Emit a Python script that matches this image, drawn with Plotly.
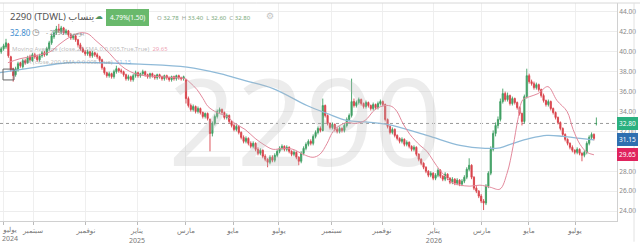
import plotly.graph_objects as go

# ---------------- data ----------------
OPEN = [40.0, 40.3, 40.5, 40.8, 39.5, 38.3, 37.7, 38.2, 38.9, 38.5,
        39.1, 38.9, 39.5, 39.1, 39.7, 39.5, 39.2, 39.6, 39.9, 39.7,
        40.3, 40.9, 41.5, 41.9, 42.3, 42.0, 42.4, 41.9, 42.1, 41.7,
        41.4, 41.6, 41.2, 40.7, 40.3, 40.0, 39.8, 40.0, 39.6, 39.9,
        39.7, 39.5, 39.2, 38.4, 37.9, 37.6, 37.8, 37.5, 38.0, 38.3,
        38.1, 38.0, 37.7, 37.3, 37.5, 37.2, 37.6, 37.9, 37.6, 37.8,
        38.0, 37.7, 37.5, 37.8, 37.6, 37.4, 37.7, 37.5, 37.3, 37.6,
        37.4, 37.2, 37.5, 37.3, 37.6, 37.4, 37.3, 37.2, 35.3, 34.6,
        34.2, 34.5, 34.0, 34.3, 33.9, 33.5, 33.8, 33.2, 31.8, 32.8,
        33.5, 34.0, 34.2, 33.9, 33.4, 33.6, 33.0, 32.6, 32.2, 32.5,
        31.9, 31.4, 31.0, 31.3, 30.8, 30.5, 30.8, 30.2, 29.8, 30.1,
        29.5, 29.2, 28.9, 29.4, 29.1, 29.6, 30.0, 30.3, 30.5, 30.2,
        30.4, 30.0, 29.7, 29.9, 29.4, 29.0, 29.8, 30.3, 30.7, 31.0,
        30.8, 31.5, 31.9, 32.3, 32.1, 34.6, 33.6, 32.8, 32.4, 32.7,
        32.2, 32.0, 32.3, 32.1, 32.6, 33.2, 33.6, 35.0, 34.6, 34.9,
        35.2, 34.8, 34.5, 34.9, 34.6, 34.3, 34.7, 34.4, 34.8, 35.0,
        34.7, 33.2, 32.5, 31.9, 32.2, 31.6, 31.3, 31.0, 31.2, 30.7,
        30.9, 30.5, 30.2, 30.4, 29.7, 29.2, 28.8, 28.4, 28.0, 27.6,
        27.8, 27.3, 27.6, 28.1, 27.5, 27.2, 27.7, 27.3, 26.9, 27.2,
        26.8, 27.1, 26.7, 27.0, 27.4, 28.2, 28.6, 27.4, 26.3, 26.0,
        25.5, 25.0, 24.8, 26.5, 27.8, 30.2, 31.8, 32.6, 33.2, 35.0,
        35.8, 35.2, 35.6, 34.8, 35.3, 34.9, 34.4, 33.8, 33.0, 35.5,
        37.6, 37.0, 36.8, 36.4, 36.7, 36.2, 35.6, 35.1, 34.7, 35.0,
        34.3, 33.9, 33.4, 32.9, 32.3, 31.7, 31.2, 30.8, 30.4, 30.1,
        29.9, 30.2, 29.8, 29.6, 29.9, 30.8, 31.4, 31.7, 32.78]

HIGH = [40.5, 40.8, 41.3, 40.9, 39.6, 38.4, 38.5, 39.0, 39.0, 39.3,
        39.3, 39.6, 39.7, 39.9, 39.9, 39.7, 39.8, 40.1, 40.1, 40.5,
        41.1, 41.8, 42.2, 42.6, 42.8, 42.6, 42.5, 42.3, 42.2, 41.9,
        41.8, 41.7, 41.3, 40.9, 40.5, 40.2, 40.2, 40.1, 40.1, 40.0,
        39.9, 39.6, 39.3, 38.5, 38.0, 38.0, 37.9, 38.2, 38.6, 38.4,
        38.3, 38.1, 37.8, 37.7, 37.6, 37.8, 38.1, 38.0, 37.9, 38.2,
        38.1, 37.8, 37.9, 37.9, 37.7, 37.8, 37.8, 37.6, 37.7, 37.7,
        37.5, 37.6, 37.6, 37.7, 37.7, 37.5, 37.6, 37.3, 35.5, 34.8,
        34.7, 34.6, 34.5, 34.4, 34.0, 33.9, 33.9, 33.3, 33.0, 33.7,
        34.2, 34.4, 34.3, 34.0, 33.8, 33.7, 33.1, 32.8, 32.7, 32.6,
        32.0, 31.6, 31.5, 31.4, 31.0, 31.0, 30.9, 30.4, 30.3, 30.2,
        29.7, 29.3, 29.6, 29.6, 29.8, 30.2, 30.5, 30.7, 30.6, 30.6,
        30.5, 30.1, 30.1, 30.0, 29.5, 30.0, 30.5, 30.9, 31.2, 31.2,
        31.7, 32.1, 32.5, 32.5, 35.3, 34.7, 33.7, 32.9, 32.9, 32.8,
        32.4, 32.5, 32.4, 32.8, 33.4, 33.8, 37.3, 35.3, 35.1, 35.4,
        35.3, 34.9, 35.1, 35.0, 34.7, 34.9, 34.8, 35.0, 35.2, 35.1,
        34.8, 33.3, 32.6, 32.4, 32.3, 31.7, 31.4, 31.4, 31.3, 31.1,
        31.0, 30.6, 30.6, 30.5, 29.8, 29.3, 28.9, 28.5, 28.1, 28.0,
        27.9, 27.8, 28.3, 28.2, 27.6, 27.9, 27.8, 27.4, 27.4, 27.3,
        27.3, 27.2, 27.2, 27.6, 28.4, 29.3, 28.7, 27.5, 26.5, 26.1,
        25.7, 25.2, 26.7, 28.0, 30.5, 32.1, 32.9, 33.5, 35.3, 36.3,
        36.0, 35.9, 35.7, 35.5, 35.4, 35.0, 34.5, 33.9, 35.7, 38.3,
        37.8, 37.2, 37.0, 36.9, 36.8, 36.3, 35.8, 35.2, 35.2, 35.1,
        34.4, 34.0, 33.5, 33.0, 32.4, 31.8, 31.3, 30.9, 30.6, 30.2,
        30.4, 30.3, 29.9, 30.1, 31.0, 31.6, 31.9, 31.8, 33.40]

LOW = [39.8, 40.1, 40.3, 39.4, 38.0, 37.0, 37.5, 38.0, 38.4, 38.3,
       38.7, 38.8, 39.0, 39.0, 39.3, 39.0, 39.0, 39.4, 39.5, 39.6,
       40.1, 40.7, 41.3, 41.7, 41.9, 41.8, 41.7, 41.7, 41.5, 41.2,
       41.2, 41.0, 40.5, 40.1, 39.9, 39.6, 39.6, 39.4, 39.4, 39.5,
       39.3, 39.0, 38.2, 37.7, 37.4, 37.4, 37.3, 37.3, 37.8, 37.9,
       37.8, 37.5, 37.1, 37.1, 37.0, 37.0, 37.4, 37.4, 37.4, 37.6,
       37.5, 37.3, 37.3, 37.4, 37.2, 37.2, 37.3, 37.1, 37.1, 37.2,
       37.0, 37.0, 37.1, 37.1, 37.2, 37.1, 37.1, 34.8, 34.4, 34.0,
       34.0, 33.8, 33.8, 33.7, 33.3, 33.3, 33.1, 30.0, 31.5, 32.6,
       33.3, 33.8, 33.7, 33.2, 33.2, 32.8, 32.4, 32.0, 32.0, 31.7,
       31.2, 30.8, 30.8, 30.6, 30.3, 30.3, 30.0, 29.6, 29.6, 29.3,
       29.0, 28.4, 28.7, 28.9, 28.9, 29.4, 29.8, 30.1, 30.0, 30.0,
       29.8, 29.5, 29.5, 29.2, 28.6, 28.8, 29.6, 30.1, 30.5, 30.6,
       30.6, 31.3, 31.7, 31.9, 32.0, 33.4, 32.6, 32.2, 32.2, 32.0,
       31.8, 31.8, 31.9, 31.9, 32.4, 33.0, 33.4, 34.4, 34.4, 34.7,
       34.6, 34.3, 34.3, 34.4, 34.1, 34.1, 34.2, 34.2, 34.6, 34.5,
       33.0, 32.3, 31.7, 31.7, 31.4, 31.1, 30.8, 30.8, 30.5, 30.5,
       30.3, 30.0, 30.0, 29.5, 29.0, 28.6, 28.2, 27.8, 27.4, 27.4,
       27.1, 27.1, 27.4, 27.3, 27.0, 27.0, 27.1, 26.7, 26.7, 26.6,
       26.6, 26.5, 26.5, 26.8, 27.2, 28.0, 27.2, 26.1, 25.8, 25.3,
       24.8, 24.1, 24.6, 26.3, 27.6, 30.0, 31.5, 32.3, 33.0, 34.8,
       35.0, 35.0, 34.6, 34.6, 34.7, 34.2, 33.6, 32.6, 32.8, 35.3,
       36.8, 36.6, 36.2, 36.2, 36.0, 35.4, 34.9, 34.5, 34.5, 34.1,
       33.7, 33.2, 32.7, 32.1, 31.5, 31.0, 30.6, 30.2, 29.9, 29.7,
       29.7, 29.6, 29.0, 29.4, 29.7, 30.6, 31.2, 31.1, 32.60]

CLOSE = [40.3, 40.6, 40.9, 39.6, 38.2, 37.6, 38.3, 38.8, 38.6, 39.1,
         38.9, 39.4, 39.2, 39.7, 39.5, 39.2, 39.6, 39.9, 39.7, 40.3,
         40.9, 41.6, 41.9, 42.3, 42.1, 42.4, 41.9, 42.1, 41.7, 41.4,
         41.6, 41.2, 40.7, 40.3, 40.0, 39.8, 40.0, 39.6, 39.9, 39.7,
         39.5, 39.2, 38.4, 37.9, 37.6, 37.8, 37.5, 38.0, 38.3, 38.1,
         38.0, 37.7, 37.3, 37.5, 37.2, 37.6, 37.9, 37.6, 37.8, 38.0,
         37.7, 37.5, 37.8, 37.6, 37.4, 37.7, 37.5, 37.3, 37.6, 37.4,
         37.2, 37.5, 37.3, 37.6, 37.4, 37.3, 37.5, 35.3, 34.6, 34.2,
         34.5, 34.0, 34.3, 33.9, 33.5, 33.8, 33.3, 31.8, 32.8, 33.5,
         34.0, 34.2, 33.9, 33.4, 33.6, 33.0, 32.6, 32.2, 32.5, 31.9,
         31.4, 31.0, 31.3, 30.8, 30.5, 30.8, 30.2, 29.8, 30.1, 29.5,
         29.2, 28.9, 29.4, 29.1, 29.6, 30.0, 30.3, 30.5, 30.2, 30.4,
         30.0, 29.7, 29.9, 29.4, 29.0, 29.8, 30.3, 30.7, 31.0, 30.8,
         31.5, 31.9, 32.3, 32.1, 34.6, 33.6, 32.8, 32.4, 32.7, 32.2,
         32.0, 32.3, 32.1, 32.6, 33.2, 33.6, 35.0, 34.6, 34.9, 35.2,
         34.8, 34.5, 34.9, 34.6, 34.3, 34.7, 34.4, 34.8, 35.0, 34.7,
         33.2, 32.5, 31.9, 32.2, 31.6, 31.3, 31.0, 31.2, 30.7, 30.9,
         30.5, 30.2, 30.4, 29.7, 29.2, 28.8, 28.4, 28.0, 27.6, 27.8,
         27.3, 27.6, 28.1, 27.5, 27.2, 27.7, 27.3, 26.9, 27.2, 26.8,
         27.1, 26.7, 27.0, 27.4, 28.2, 28.6, 27.4, 26.3, 26.0, 25.5,
         25.0, 24.8, 26.5, 27.8, 30.2, 31.8, 32.6, 33.2, 35.0, 35.8,
         35.2, 35.6, 34.8, 35.3, 34.9, 34.4, 33.8, 33.0, 35.5, 37.6,
         37.0, 36.8, 36.4, 36.7, 36.2, 35.6, 35.1, 34.7, 35.0, 34.3,
         33.9, 33.4, 32.9, 32.3, 31.7, 31.2, 30.8, 30.4, 30.1, 29.9,
         30.2, 29.8, 29.6, 29.9, 30.8, 31.4, 31.7, 31.3, 32.80]

# short moving average (red): candle index, value
MA_SHORT_IDX = [2.8, 7.8, 14.1, 20.3, 24.5, 28.7, 32.8, 36.2, 39.1, 42.4, 45.3, 48.7,
                51.6, 55.8, 59.9, 66.2, 72.4, 76.6, 78.7, 81.6, 84.1, 86.2, 89.9, 94.1,
                97.4, 101.6, 105.8, 109.9, 113.3, 117.4, 121.6, 125.8, 129.9, 132.8,
                135.8, 137.8, 139.9, 144.1, 147.4, 151.6, 155.8, 159.9, 162.8, 164.9,
                167.4, 170.3, 174.5, 177.4, 179.9, 182.8, 185.8, 188.3, 191.2, 195.3,
                199.5, 203.7, 207.8, 210.8, 213.3, 215.3, 217.4, 220.3, 223.7, 227.8,
                231.6, 235.8, 238.3, 241.2, 244.1, 247.0]
MA_SHORT_VAL = [38.9, 39.3, 39.6, 40.0, 40.8, 41.5, 41.9, 41.8, 41.2, 40.5, 39.8, 38.9,
                38.3, 37.8, 37.6, 37.5, 37.4, 37.3, 36.9, 36.2, 35.3, 34.5, 33.9, 33.5,
                32.8, 32.2, 31.3, 30.6, 30.2, 30.3, 30.2, 29.7, 29.4, 29.7,
                30.8, 31.8, 32.4, 32.9, 32.8, 33.1, 34.2, 34.6, 34.5, 34.0,
                32.8, 31.7, 30.6, 30.0, 29.1, 28.1, 27.3, 26.8, 26.6, 26.5,
                26.6, 26.4, 26.2, 27.8, 30.5, 33.2, 35.2, 35.5, 35.8, 36.5,
                35.1, 34.0, 32.2, 30.7, 29.9, 29.65]

# long moving average (blue)
MA_LONG_IDX = [-0.5, 13.3, 27.4, 41.2, 57.8, 77.4, 91.2, 101.6, 113.3, 127.4, 135.8,
               144.1, 151.6, 160.8, 177.4, 191.2, 201.6, 207.8, 213.3, 220.3, 227.4,
               234.1, 241.2, 247.0]
MA_LONG_VAL = [37.9, 38.4, 38.9, 38.9, 38.75, 38.45, 37.8, 37.1, 36.3, 34.6, 33.8,
               33.1, 32.95, 32.7, 31.6, 30.6, 30.3, 30.35, 30.8, 31.3, 31.6,
               31.5, 31.3, 31.15]

TICK_POS = [0.75, 13.25, 35.3, 56.6, 77.0, 96.6, 115.75, 137.8, 158.7, 180.3, 200.3, 219.9, 239.1]
TICK_TEXT = ["", "سبتمبر", "نوفمبر", "يناير<br>2025", "مارس", "مايو", "يوليو",
             "سبتمبر", "نوفمبر", "يناير<br>2026", "مارس", "مايو", "يوليو"]
FIRST_TICK_TEXT = "يوليو<br>2024"
Y_TICKS = [24, 26, 28, 30, 32, 34, 36, 38, 40, 42, 44]
# the 30.00 label sits under the price badges in the reference
Y_TICK_TEXT = ["24.00", "26.00", "28.00", "", "32.00", "34.00", "36.00",
               "38.00", "40.00", "42.00", "44.00"]

CHANGE_PCT = 4.79
CHANGE_ABS = 1.50

# ---------------- layout helpers ----------------
W, H = 640, 245
ML, MR, MT, MB = 0, 23, 3, 21
PW, PH = W - ML - MR, H - MT - MB


def px(x):
    return (x - ML) / PW


def py(y):
    return (H - MB - y) / PH


GREEN = "#3f9f63"
RED = "#d9434b"

fig = go.Figure()
fig.add_trace(go.Scatter(x=MA_LONG_IDX, y=MA_LONG_VAL, mode="lines",
                         line=dict(color="#8fbad8", width=1.3, shape="spline"),
                         hoverinfo="skip", showlegend=False))
fig.add_trace(go.Scatter(x=MA_SHORT_IDX, y=MA_SHORT_VAL, mode="lines",
                         line=dict(color="#e3899c", width=1, shape="spline"),
                         hoverinfo="skip", showlegend=False))
fig.add_trace(go.Candlestick(
    x=list(range(len(CLOSE))), open=OPEN, high=HIGH, low=LOW, close=CLOSE,
    increasing=dict(line=dict(color=GREEN, width=0.9), fillcolor=GREEN),
    decreasing=dict(line=dict(color=RED, width=0.9), fillcolor=RED),
    whiskerwidth=0, showlegend=False, hoverinfo="skip"))

fig.update_layout(
    width=W, height=H, margin=dict(l=ML, r=MR, t=MT, b=MB),
    paper_bgcolor="white", plot_bgcolor="white",
    font=dict(family="Noto Sans, DejaVu Sans", size=7, color="#777"),
    showlegend=False,
    xaxis=dict(range=[-0.5, 256.6], tickvals=TICK_POS, ticktext=TICK_TEXT,
               tickangle=0,
               showgrid=True, gridcolor="#efefef", gridwidth=1,
               ticks="outside", ticklen=3, tickcolor="#bbb",
               showline=True, linecolor="#d0d0d0", linewidth=1,
               zeroline=False, rangeslider=dict(visible=False),
               tickfont=dict(size=7, color="#777")),
    yaxis=dict(range=[23.0, 44.9], side="right", tickvals=Y_TICKS,
               ticktext=Y_TICK_TEXT, showgrid=True, gridcolor="#ededed",
               ticks="", showline=True, linecolor="#d0d0d0", linewidth=1,
               zeroline=False, tickfont=dict(size=6.5, color="#888")),
)

last = CLOSE[-1]
shapes = [
    dict(type="line", xref="paper", yref="y", x0=0, x1=1, y0=last, y1=last,
         line=dict(color="#9a9a9a", width=1, dash="dot"), layer="below"),
    dict(type="line", xref="paper", yref="paper", x0=0, x1=px(640), y0=1, y1=1,
         line=dict(color="#d8d8d8", width=1)),
    dict(type="line", xref="paper", yref="paper", x0=px(634), x1=px(634), y0=py(245), y1=1,
         line=dict(color="#e2e2e2", width=1)),
    dict(type="rect", xref="paper", yref="paper", x0=px(3), x1=px(14), y0=py(81), y1=py(70),
         line=dict(color="#666", width=1)),
]

ann = []
# watermark
ann.append(dict(text="2290", xref="paper", yref="paper", x=px(305), y=py(121),
                showarrow=False, font=dict(size=120, color="rgba(185,185,185,0.27)",
                                           family="Open Sans")))
# first x label (kept inside the chart)
ann.append(dict(text=FIRST_TICK_TEXT, xref="paper", yref="paper", x=px(0), y=py(226),
                xanchor="left", yanchor="top", showarrow=False,
                font=dict(size=7, color="#777")))
# header
ann.append(dict(text="2290 (TDWL) ينساب", xref="paper", yref="paper", x=px(8), y=py(17),
                xanchor="left", yanchor="middle", showarrow=False,
                font=dict(size=9.5, color="#555")))
ann.append(dict(text="☁", xref="paper", yref="paper", x=px(99), y=py(16),
                xanchor="center", yanchor="middle", showarrow=False,
                font=dict(size=8, color="#4f9460")))
ann.append(dict(text=f"{CHANGE_PCT:.2f}%({CHANGE_ABS:.2f})", xref="paper", yref="paper",
                x=px(127.5), y=py(18), xanchor="center", yanchor="middle", showarrow=False,
                bgcolor="#69b96c", bordercolor="#69b96c", borderpad=3,
                font=dict(size=6.5, color="white")))
ohlc = ("O <span style='color:#79a97b'>%.2f</span>  H <span style='color:#79a97b'>%.2f</span>"
        "  L <span style='color:#79a97b'>%.2f</span>  C <span style='color:#79a97b'>%.2f</span>"
        % (OPEN[-1], HIGH[-1], LOW[-1], CLOSE[-1]))
ann.append(dict(text=ohlc, xref="paper", yref="paper", x=px(155), y=py(18),
                xanchor="left", yanchor="middle", showarrow=False,
                font=dict(size=6, color="#9aa69a")))
ann.append(dict(text="⚙", xref="paper", yref="paper", x=px(270), y=py(16),
                xanchor="center", yanchor="middle", showarrow=False,
                font=dict(size=9, color="#c4c4c4")))
ann.append(dict(text=f"{last:.2f}", xref="paper", yref="paper", x=px(8), y=py(33),
                xanchor="left", yanchor="middle", showarrow=False,
                font=dict(size=8, color="#3f8fd0")))
ann.append(dict(text="◷", xref="paper", yref="paper", x=px(36), y=py(32),
                xanchor="center", yanchor="middle", showarrow=False,
                font=dict(size=9, color="#8a8a8a")))
ann.append(dict(text="- 2290 - يومي", xref="paper", yref="paper", x=px(44), y=py(33),
                xanchor="left", yanchor="middle", showarrow=False,
                font=dict(size=6.5, color="#999")))
# indicator legends
ann.append(dict(text="Moving Average (close,20,SMA,0,0.005,True,True)  "
                     f"<span style='color:#e0607e'>{MA_SHORT_VAL[-1]:.2f}</span>",
                xref="paper", yref="paper", x=px(10), y=py(50),
                xanchor="left", yanchor="middle", showarrow=False,
                font=dict(size=6, color="rgba(140,140,140,0.6)")))
ann.append(dict(text="MA (close,200,SMA,0,0.005,True)  "
                     f"<span style='color:#5b9bd5'>{MA_LONG_VAL[-1]:.2f}</span>",
                xref="paper", yref="paper", x=px(20), y=py(63),
                xanchor="left", yanchor="middle", showarrow=False,
                font=dict(size=6, color="rgba(140,140,140,0.6)")))
# price badges on the right axis
for val, col in [(last, "#2bb07f"), (MA_LONG_VAL[-1], "#2f6fb0"), (MA_SHORT_VAL[-1], "#e0245e")]:
    ann.append(dict(text=f"{val:.2f}", xref="paper", yref="y", x=px(617), y=val,
                    xanchor="left", yanchor="middle", showarrow=False,
                    bgcolor=col, bordercolor=col, borderpad=1,
                    font=dict(size=6.5, color="white")))

fig.update_layout(shapes=shapes, annotations=ann)
fig.write_html("out.html")
